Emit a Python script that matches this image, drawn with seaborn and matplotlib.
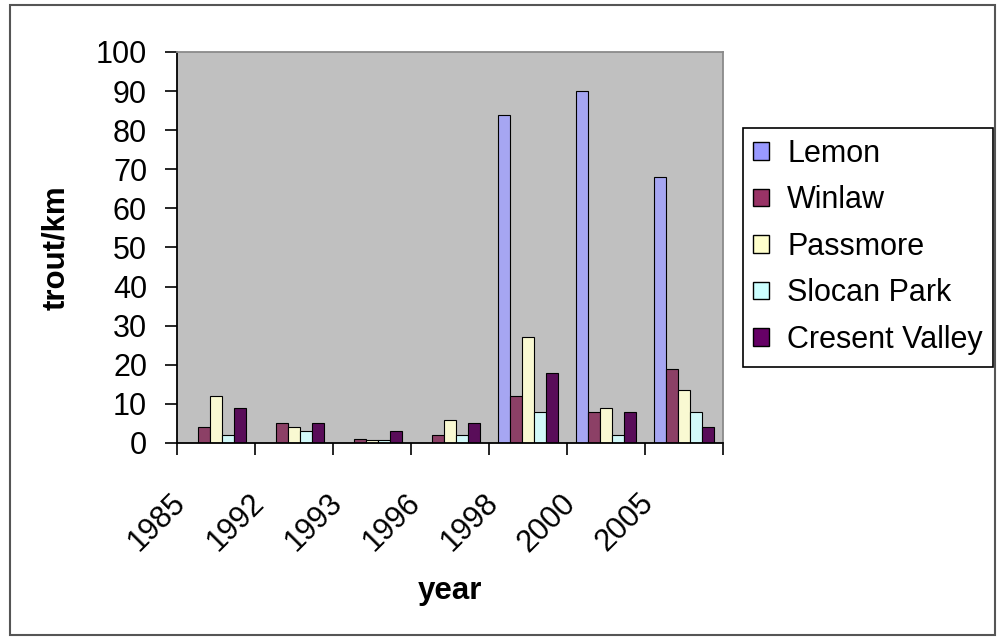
import numpy as np
import pandas as pd
import matplotlib
matplotlib.use("Agg")
import matplotlib.pyplot as plt
from matplotlib.transforms import ScaledTranslation
from matplotlib.patches import Rectangle
import seaborn as sns

# Trout density (trout/km) by survey year and site
years = ["1985", "1992", "1993", "1996", "1998", "2000", "2005"]
sites = ["Lemon", "Winlaw", "Passmore", "Slocan Park", "Cresent Valley"]
lemon = [0, 0, 0, 0, 84, 90, 68]
winlaw = [4, 5, 1, 2, 12, 8, 19]
passmore = [12, 4, 0.8, 6, 27, 9, 13.5]
slocan_park = [2, 3, 0.8, 2, 8, 2, 8]
cresent_valley = [9, 5, 3, 5, 18, 8, 4]
site_colors = ["#9999FF", "#993366", "#FFFFCC", "#CCFFFF", "#660066"]

series = [lemon, winlaw, passmore, slocan_park, cresent_valley]
df = pd.DataFrame(
    [(y, s, v) for s, vals in zip(sites, series) for y, v in zip(years, vals)],
    columns=["year", "site", "trout"],
)

sns.set_theme(style="white")
plt.rcParams["font.family"] = ["Liberation Sans", "DejaVu Sans"]
plt.rcParams["text.color"] = "black"
plt.rcParams["axes.labelcolor"] = "black"
plt.rcParams["xtick.color"] = "black"
plt.rcParams["ytick.color"] = "black"

fig = plt.figure(figsize=(9.97, 6.37), dpi=100)
ax = fig.add_axes([0.1775, 0.3046, 0.5477, 0.6138])
ax.set_facecolor("#C0C0C0")

sns.barplot(
    data=df, x="year", y="trout", hue="site", order=years, hue_order=sites,
    palette=site_colors, width=0.77, gap=0, edgecolor="black", linewidth=0.8,
    ax=ax, legend=True,
)

ax.set_ylim(0, 100)
ax.set_xlim(-0.5, len(years) - 0.5)
ax.set_yticks(np.arange(0, 101, 10))
ax.tick_params(axis="y", labelsize=22, length=8.5, width=1.2,
               direction="out", left=True, pad=13, labelcolor="black")

# category boundary ticks, labels placed at each group's left edge
ax.set_xticks(np.arange(len(years) + 1) - 0.5)
ax.set_xticklabels(years + [""], rotation=45, ha="right", va="top")
ax.tick_params(axis="x", labelsize=22, length=8.5, width=1.2,
               direction="out", bottom=True, pad=24, labelcolor="black")
offset = ScaledTranslation(15 / 100, 0, fig.dpi_scale_trans)
for lbl in ax.get_xticklabels():
    lbl.set_transform(lbl.get_transform() + offset)

# horizontal gridlines
ax.set_yticks([20, 30, 90], minor=True)
ax.tick_params(axis="y", which="minor", length=0)
ax.grid(False)
ax.grid(True, axis="y", which="minor", color="#7a7a7a", linewidth=1.1)
ax.set_axisbelow(True)

for side in ["left", "bottom"]:
    ax.spines[side].set_color("black")
    ax.spines[side].set_linewidth(1.3)
for side in ["top", "right"]:
    ax.spines[side].set_color("#8a8a8a")
    ax.spines[side].set_linewidth(1.3)

ax.set_xlabel("year", fontsize=22.5, fontweight="bold", labelpad=13, color="black")
ax.set_ylabel("trout/km", fontsize=22.5, fontweight="bold", labelpad=18, color="black")

ax.legend_.remove()
handles = [Rectangle((0, 0), 1, 1, facecolor=c, edgecolor="black", linewidth=1)
           for c in site_colors]
leg = fig.legend(
    handles, sites, loc="upper left", bbox_to_anchor=(0.745, 0.799),
    bbox_transform=fig.transFigure, borderaxespad=0, fontsize=22,
    frameon=False, labelspacing=0.54,
    handlelength=0.5, handleheight=0.5, handletextpad=0.6, borderpad=0.35,
)
for t in leg.get_texts():
    t.set_color("black")

# legend box
fig.patches.append(Rectangle((743 / 997, 1 - 367 / 637), 250 / 997, 239 / 637,
                             transform=fig.transFigure, fill=False,
                             edgecolor="black", linewidth=1.2))

# outer chart border
fig.patches.append(Rectangle((10 / 997, 2 / 637), 985 / 997, 630 / 637,
                             transform=fig.transFigure, fill=False,
                             edgecolor="#555555", linewidth=1.5))

fig.savefig("out.png", dpi=100)
